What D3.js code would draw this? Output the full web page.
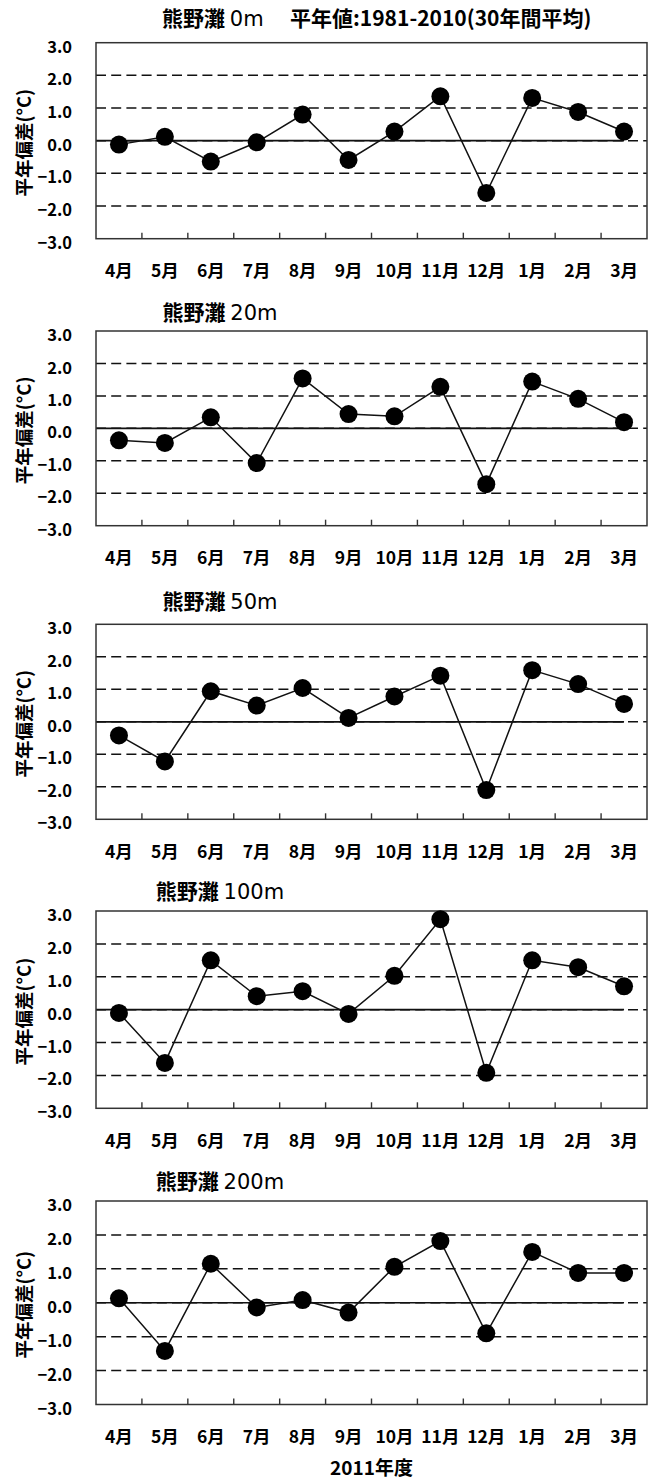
<!DOCTYPE html>
<html>
<head>
<meta charset="utf-8">
<script src="https://cdn.jsdelivr.net/npm/d3@7"></script>
<style>
  body { margin: 0; background: #fff; }
  text { font-family: "Noto Sans CJK JP", "Noto Sans", sans-serif; font-weight: bold; fill: #000; }
  .latin { font-family: "DejaVu Sans", sans-serif; font-weight: normal; }
</style>
</head>
<body>
<div id="canvas"></div>
<script>
// months of the 2011 fiscal year
var months = ["4月", "5月", "6月", "7月", "8月", "9月", "10月", "11月", "12月", "1月", "2月", "3月"];

var place = "熊野灘";
var depths = ["0m", "20m", "50m", "100m", "200m"];
var note = "平年値:1981-2010(30年間平均)";

// anomaly from normal (°C)
var anom0   = [-0.12, 0.12, -0.64, -0.05, 0.80, -0.59, 0.28, 1.36, -1.60, 1.31, 0.88, 0.28];
var anom20  = [-0.37, -0.45, 0.34, -1.07, 1.54, 0.44, 0.37, 1.28, -1.72, 1.44, 0.91, 0.19];
var anom50  = [-0.42, -1.22, 0.94, 0.50, 1.04, 0.12, 0.78, 1.42, -2.10, 1.59, 1.16, 0.55];
var anom100 = [-0.10, -1.62, 1.50, 0.41, 0.56, -0.13, 1.03, 2.75, -1.92, 1.50, 1.29, 0.71];
var anom200 = [0.13, -1.42, 1.15, -0.14, 0.08, -0.29, 1.06, 1.82, -0.90, 1.50, 0.88, 0.88];

var yTicks = [3, 2, 1, 0, -1, -2, -3];
var gridVals = [2, 1, 0, -1, -2];

var series = [anom0, anom20, anom50, anom100, anom200];

// frame layout of each panel
var layout = [
  {top: 42.7, bottom: 238.7, titleY: 18.5},
  {top: 331, bottom: 525.7, titleY: 312},
  {top: 624.3, bottom: 819.3, titleY: 601.7},
  {top: 911, bottom: 1108.3, titleY: 891.7},
  {top: 1201, bottom: 1404.5, titleY: 1181.7}
];

var left = 96, right = 647;

var svg = d3.select("#canvas")
  .append("svg")
  .attr("width", 653)
  .attr("height", 1479);

var x = d3.scaleBand()
  .domain(months)
  .range([left, right]);

var cx = function (d) { return x(d) + x.bandwidth() / 2; };

series.forEach(function (vals, i) {
  var L = layout[i];
  var g = svg.append("g");

  var y = d3.scaleLinear()
    .domain([-3, 3])
    .range([L.bottom, L.top]);

  // dashed gridlines
  g.selectAll(".grid")
    .data(gridVals)
    .enter()
    .append("line")
    .attr("class", "grid")
    .attr("x1", left)
    .attr("x2", right)
    .attr("y1", d => y(d))
    .attr("y2", d => y(d))
    .attr("stroke", "#111")
    .attr("stroke-width", 1.5)
    .attr("stroke-dasharray", "10,5.2");

  // solid zero line up to last month
  g.append("line")
    .attr("x1", left)
    .attr("x2", cx(months[months.length - 1]))
    .attr("y1", y(0))
    .attr("y2", y(0))
    .attr("stroke", "#111")
    .attr("stroke-width", 1.7);

  // frame
  g.append("rect")
    .attr("x", left)
    .attr("y", L.top)
    .attr("width", right - left)
    .attr("height", L.bottom - L.top)
    .attr("fill", "none")
    .attr("stroke", "#333")
    .attr("stroke-width", 1.5);

  // category ticks on the bottom edge
  g.selectAll(".tick-x")
    .data(months.slice(1))
    .enter()
    .append("line")
    .attr("x1", d => x(d))
    .attr("x2", d => x(d))
    .attr("y1", L.bottom)
    .attr("y2", L.bottom - 6)
    .attr("stroke", "#333")
    .attr("stroke-width", 1.4);

  // y axis labels
  var yAxis = d3.axisLeft(y)
    .tickValues(yTicks)
    .tickSize(0)
    .tickPadding(24)
    .tickFormat(d3.format(".1f"));

  var ya = g.append("g")
    .attr("transform", "translate(" + left + ",0)")
    .call(yAxis);
  ya.select(".domain").remove();
  ya.selectAll("text")
    .attr("dy", "0.58em")
    .style("font-size", "16.5px")
    .style("font-weight", "bold")
    .style("font-family", '"Noto Sans CJK JP", sans-serif');

  // month labels
  g.selectAll(".mlabel")
    .data(months)
    .enter()
    .append("text")
    .attr("x", cx)
    .attr("y", L.bottom + 32)
    .attr("dy", "0.36em")
    .attr("text-anchor", "middle")
    .style("font-size", "17.5px")
    .text(d => d);

  // y title
  g.append("text")
    .attr("transform", "translate(24," + ((L.top + L.bottom) / 2 + 2) + ") rotate(-90)")
    .attr("dy", "0.36em")
    .attr("text-anchor", "middle")
    .style("font-size", "18.5px")
    .text("平年偏差(°C)");

  // panel title
  var t = g.append("text")
    .attr("x", i === 0 ? 162 : 220)
    .attr("y", L.titleY)
    .attr("dy", "0.36em")
    .attr("text-anchor", i === 0 ? "start" : "middle")
    .style("font-size", "21px");
  t.append("tspan").text(place + " ");
  t.append("tspan").attr("class", "latin").style("font-size", "21px").text(depths[i]);
  if (i === 0) {
    t.append("tspan").attr("x", 290).text(note);
  }

  // data line
  var line = d3.line()
    .x((d, j) => cx(months[j]))
    .y(d => y(d));

  g.append("path")
    .datum(vals)
    .attr("d", line)
    .attr("fill", "none")
    .attr("stroke", "#111")
    .attr("stroke-width", 1.5);

  g.selectAll(".pt")
    .data(vals)
    .enter()
    .append("circle")
    .attr("cx", (d, j) => cx(months[j]))
    .attr("cy", d => y(d))
    .attr("r", 9)
    .attr("fill", "#000");
});

svg.append("text")
  .attr("x", (left + right) / 2)
  .attr("y", 1468)
  .attr("dy", "0.36em")
  .attr("text-anchor", "middle")
  .style("font-size", "19px")
  .text("2011年度");
</script>
</body>
</html>
